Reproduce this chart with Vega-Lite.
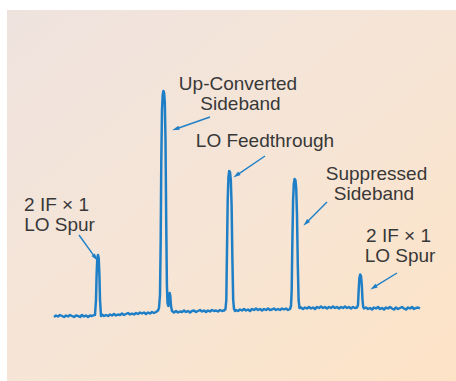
{
  "$schema": "https://vega.github.io/schema/vega-lite/v6.json",
  "width": 449,
  "height": 371,
  "autosize": "none",
  "padding": {"left": 7, "top": 10, "right": 0, "bottom": 0},
  "background": "#ffffff",
  "config": {
    "view": {
      "stroke": null,
      "fill": {"gradient": "linear", "x1": 0, "y1": 0, "x2": 1, "y2": 1,
        "stops": [{"offset": 0, "color": "#efe3df"}, {"offset": 0.5, "color": "#f6e5d6"}, {"offset": 1, "color": "#fde3c6"}]}
    }
  },
  "datasets": {
    "spectrum": [
      {"f":54,"p":64},{"f":56,"p":65.5},{"f":58,"p":64.5},{"f":60,"p":66},{"f":62,"p":65},{"f":64,"p":64},{"f":66,"p":65.5},{"f":68,"p":64.5},{"f":70,"p":66},{"f":72,"p":65},{"f":74,"p":64},{"f":76,"p":65.5},{"f":78,"p":65},{"f":80,"p":64},{"f":82,"p":66},{"f":84,"p":64.5},{"f":86,"p":65.5},{"f":88,"p":64},{"f":90,"p":65.5},{"f":92,"p":65},{"f":94,"p":66},
      {"f":95,"p":66},{"f":96,"p":81},{"f":96.6,"p":106},{"f":97.3,"p":123},{"f":98,"p":126},{"f":98.7,"p":123},{"f":99.4,"p":106},{"f":100,"p":81},{"f":101,"p":65},
      {"f":102,"p":66.5},{"f":104,"p":65},{"f":106,"p":66},{"f":108,"p":65},{"f":110,"p":66.5},{"f":112,"p":65.5},{"f":114,"p":67},{"f":116,"p":65.5},{"f":118,"p":66.5},{"f":120,"p":66},{"f":122,"p":67.5},{"f":124,"p":66},{"f":126,"p":67},{"f":128,"p":68},{"f":130,"p":66.5},{"f":132,"p":67.5},{"f":134,"p":66.5},{"f":136,"p":68},{"f":138,"p":67},{"f":140,"p":68.5},{"f":142,"p":67.5},{"f":144,"p":68.5},{"f":146,"p":67},{"f":148,"p":68.5},{"f":150,"p":67.5},{"f":152,"p":69},{"f":154,"p":68},{"f":156,"p":69},{"f":158,"p":70.5},
      {"f":159,"p":73},{"f":160,"p":86},{"f":160.7,"p":141},{"f":161.3,"p":221},{"f":162,"p":271},{"f":162.7,"p":286},{"f":163.4,"p":290},{"f":164.1,"p":288},{"f":164.8,"p":279},{"f":165.5,"p":241},{"f":166.2,"p":161},{"f":166.9,"p":96},{"f":167.5,"p":78},{"f":168.3,"p":75},{"f":169,"p":81},{"f":169.7,"p":88},{"f":170.3,"p":85},{"f":171,"p":75},{"f":172,"p":70},
      {"f":174,"p":68.5},{"f":176,"p":70},{"f":178,"p":68.5},{"f":180,"p":69.5},{"f":182,"p":69},{"f":184,"p":70.5},{"f":186,"p":69},{"f":188,"p":70},{"f":190,"p":68.5},{"f":192,"p":70},{"f":194,"p":70.5},{"f":196,"p":69},{"f":198,"p":70},{"f":200,"p":71},{"f":202,"p":69.5},{"f":204,"p":70.5},{"f":206,"p":69},{"f":208,"p":70.5},{"f":210,"p":69.5},{"f":212,"p":71},{"f":214,"p":70},{"f":216,"p":70.5},{"f":218,"p":69.5},{"f":220,"p":71},{"f":222,"p":70},{"f":224,"p":70.5},
      {"f":225.5,"p":72},{"f":226.3,"p":81},{"f":227,"p":131},{"f":227.7,"p":181},{"f":228.4,"p":203},{"f":229.2,"p":210},{"f":230,"p":209},{"f":230.8,"p":201},{"f":231.6,"p":176},{"f":232.4,"p":121},{"f":233.2,"p":81},{"f":234,"p":72},{"f":235,"p":70},
      {"f":236,"p":71},{"f":238,"p":70},{"f":240,"p":71.5},{"f":242,"p":70.5},{"f":244,"p":72},{"f":246,"p":70.5},{"f":248,"p":71.5},{"f":250,"p":70},{"f":252,"p":72},{"f":254,"p":71},{"f":256,"p":72.5},{"f":258,"p":71},{"f":260,"p":72},{"f":262,"p":70.5},{"f":264,"p":72},{"f":266,"p":71},{"f":268,"p":72.5},{"f":270,"p":71},{"f":272,"p":71.5},{"f":274,"p":72.5},{"f":276,"p":71},{"f":278,"p":72},{"f":280,"p":71},{"f":282,"p":72.5},{"f":284,"p":71.5},{"f":286,"p":72.5},{"f":288,"p":71},{"f":290,"p":72},
      {"f":291,"p":75},{"f":291.7,"p":91},{"f":292.4,"p":141},{"f":293.1,"p":181},{"f":293.8,"p":197},{"f":294.6,"p":202},{"f":295.4,"p":201},{"f":296.2,"p":193},{"f":297,"p":166},{"f":297.8,"p":116},{"f":298.6,"p":81},{"f":299.5,"p":73},
      {"f":301,"p":73.5},{"f":303,"p":72},{"f":305,"p":73.5},{"f":307,"p":72.5},{"f":309,"p":74},{"f":311,"p":72.5},{"f":313,"p":73.5},{"f":315,"p":72},{"f":317,"p":74},{"f":319,"p":73},{"f":321,"p":74.5},{"f":323,"p":73},{"f":325,"p":74},{"f":327,"p":72.5},{"f":329,"p":74},{"f":331,"p":73},{"f":333,"p":74.5},{"f":335,"p":73},{"f":337,"p":74},{"f":339,"p":72.5},{"f":341,"p":74},{"f":343,"p":73},{"f":345,"p":74.5},{"f":347,"p":73},{"f":349,"p":74},{"f":351,"p":72.5},{"f":353,"p":74},{"f":355,"p":73},{"f":357,"p":73.5},
      {"f":358,"p":76},{"f":358.7,"p":91},{"f":359.4,"p":103},{"f":360.2,"p":106.5},{"f":361,"p":105},{"f":361.8,"p":96},{"f":362.5,"p":81},{"f":363.2,"p":74},{"f":364,"p":72.5},
      {"f":366,"p":73.5},{"f":368,"p":72},{"f":370,"p":73},{"f":372,"p":71.5},{"f":374,"p":73.5},{"f":376,"p":72.5},{"f":378,"p":74},{"f":380,"p":72},{"f":382,"p":73},{"f":384,"p":71.5},{"f":386,"p":73.5},{"f":388,"p":72.5},{"f":390,"p":74},{"f":392,"p":72.5},{"f":394,"p":71.5},{"f":396,"p":73.5},{"f":398,"p":72},{"f":400,"p":73},{"f":402,"p":74},{"f":404,"p":72.5},{"f":406,"p":71.5},{"f":408,"p":73.5},{"f":410,"p":72.5},{"f":412,"p":74},{"f":414,"p":72},{"f":416,"p":73},{"f":418,"p":73.5},{"f":420,"p":72.5}
    ],
    "arrows": [
      {"f":210,"p":264,"f2":175.8,"p2":252,"ang":250.6},
      {"f":265,"p":225,"f2":236.5,"p2":205.7,"ang":235.9},
      {"f":327,"p":179,"f2":306.1,"p2":158.1,"ang":225},
      {"f":79,"p":146,"f2":95.25,"p2":123.4,"ang":144.2},
      {"f":397,"p":108,"f2":373.6,"p2":93.6,"ang":238.4}
    ],
    "labels": [
      {"f":238,"p":291.5,"t":"Up-Converted"},
      {"f":240.5,"p":271.5,"t":"Sideband"},
      {"f":265,"p":234,"t":"LO Feedthrough"},
      {"f":376.5,"p":201.5,"t":"Suppressed"},
      {"f":374,"p":181,"t":"Sideband"},
      {"f":56.5,"p":170.5,"t":"2 IF × 1"},
      {"f":59.5,"p":150.5,"t":"LO Spur"},
      {"f":398.5,"p":139.5,"t":"2 IF × 1"},
      {"f":400,"p":119,"t":"LO Spur"}
    ]
  },
  "layer": [
    {
      "data": {"name": "spectrum"},
      "mark": {"type": "line", "color": "#1f7fc6", "strokeWidth": 2.5, "strokeJoin": "round"},
      "encoding": {
        "x": {"field": "f", "type": "quantitative", "scale": {"domain": [7, 456], "nice": false, "zero": false}, "axis": null},
        "y": {"field": "p", "type": "quantitative", "scale": {"domain": [0, 371], "nice": false, "zero": false}, "axis": null}
      }
    },
    {
      "data": {"name": "arrows"},
      "mark": {"type": "rule", "color": "#1f7fc6", "strokeWidth": 1.4},
      "encoding": {
        "x": {"field": "f", "type": "quantitative", "scale": {"domain": [7, 456], "nice": false, "zero": false}, "axis": null},
        "y": {"field": "p", "type": "quantitative", "scale": {"domain": [0, 371], "nice": false, "zero": false}, "axis": null},
        "x2": {"field": "f2"},
        "y2": {"field": "p2"}
      }
    },
    {
      "data": {"name": "arrows"},
      "mark": {"type": "point", "shape": "M0,-1L0.55,0.9L-0.55,0.9Z", "filled": true, "size": 60, "color": "#1f7fc6", "opacity": 1, "strokeWidth": 0},
      "encoding": {
        "x": {"field": "f2", "type": "quantitative", "scale": {"domain": [7, 456], "nice": false, "zero": false}, "axis": null},
        "y": {"field": "p2", "type": "quantitative", "scale": {"domain": [0, 371], "nice": false, "zero": false}, "axis": null},
        "angle": {"field": "ang", "type": "quantitative", "scale": null}
      }
    },
    {
      "data": {"name": "labels"},
      "mark": {"type": "text", "align": "center", "baseline": "alphabetic", "font": "Liberation Sans", "fontSize": 19, "color": "#383838"},
      "encoding": {
        "x": {"field": "f", "type": "quantitative", "scale": {"domain": [7, 456], "nice": false, "zero": false}, "axis": null},
        "y": {"field": "p", "type": "quantitative", "scale": {"domain": [0, 371], "nice": false, "zero": false}, "axis": null},
        "text": {"field": "t"}
      }
    }
  ]
}
